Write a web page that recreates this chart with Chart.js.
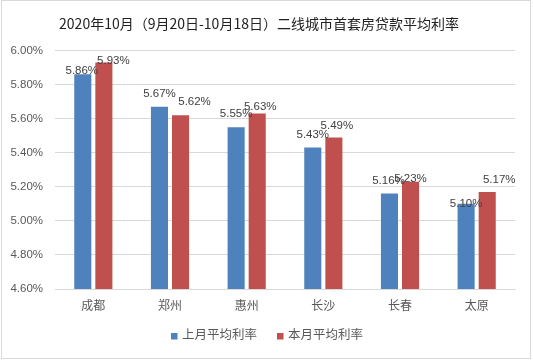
<!DOCTYPE html>
<html>
<head>
<meta charset="utf-8">
<script src="https://cdn.jsdelivr.net/npm/chart.js@4/dist/chart.umd.min.js"></script>
<style>
html,body{margin:0;padding:0;background:#fff;}
#wrap{width:533px;height:360px;position:relative;}
</style>
</head>
<body>
<div id="wrap"><canvas id="c" width="533" height="360"></canvas></div>
<script>
const titleText = '2020年10月（9月20日-10月18日）二线城市首套房贷款平均利率';
const categories = ['成都', '郑州', '惠州', '长沙', '长春', '太原'];
const seriesNames = ['上月平均利率', '本月平均利率'];
const lastMonth = [5.86, 5.67, 5.55, 5.43, 5.16, 5.10];
const thisMonth = [5.93, 5.62, 5.63, 5.49, 5.23, 5.17];
const yMin = 4.6, yMax = 6.0, yStep = 0.2;

// label nudges relative to bar top-centre (style only)
const labelNudges = [
  [[-1,-4],[0,-13],[0,-13],[0,-13],[-1,-12.5],[0,0]],
  [[9.5,-1.5],[14,-13],[3,-7],[3,-12],[0,-3],[12,-12]]
];
const colors = ['#4F81BD', '#C0504D'];
const FONT = '"Liberation Sans", "Noto Sans CJK SC", sans-serif';

const labelPlugin = {
  id: 'valueLabels',
  afterDatasetsDraw(chart) {
    const ctx = chart.ctx;
    ctx.save();
    ctx.font = '11.5px ' + FONT;
    ctx.fillStyle = '#404040';
    ctx.textAlign = 'center';
    ctx.textBaseline = 'middle';
    chart.data.datasets.forEach((ds, di) => {
      const meta = chart.getDatasetMeta(di);
      meta.data.forEach((bar, i) => {
        const n = labelNudges[di][i];
        ctx.fillText(ds.data[i].toFixed(2) + '%', bar.x + n[0], bar.y + n[1]);
      });
    });
    ctx.restore();
  }
};

const legendBorderPlugin = {
  id: 'legendBorder',
  afterDraw(chart) {
    const ctx = chart.ctx;
    ctx.save();
    // outer border
    ctx.strokeStyle = '#D9D9D9';
    ctx.lineWidth = 1;
    ctx.strokeRect(1.5, 0.5, 529, 358);
    // legend
    ctx.font = '12.5px ' + FONT;
    ctx.textBaseline = 'middle';
    ctx.textAlign = 'left';
    const ly = 336;
    const items = chart.data.datasets;
    let x = 171;
    items.forEach((ds, i) => {
      ctx.fillStyle = ds.backgroundColor;
      ctx.fillRect(x, ly - 3, 6.5, 6.5);
      ctx.fillStyle = '#595959';
      ctx.fillText(ds.label, x + 11, ly);
      x += 11 + ctx.measureText(ds.label).width + 20;
    });
    ctx.restore();
  }
};

new Chart(document.getElementById('c'), {
  type: 'bar',
  data: {
    labels: categories,
    datasets: [
      { label: seriesNames[0], data: lastMonth, backgroundColor: colors[0] },
      { label: seriesNames[1], data: thisMonth, backgroundColor: colors[1] }
    ]
  },
  options: {
    responsive: false,
    animation: false,
    devicePixelRatio: 1,
    layout: { padding: { top: 0, left: 3, right: 18, bottom: 41 } },
    datasets: { bar: { categoryPercentage: 0.55, barPercentage: 0.81 } },
    plugins: {
      legend: { display: false },
      tooltip: { enabled: false },
      title: {
        display: true,
        text: titleText,
        color: '#222',
        font: { family: '"Noto Sans CJK SC", "Liberation Sans", sans-serif', size: 14, weight: 'normal', lineHeight: 1.2 },
        padding: { top: 15, bottom: 18.7 }
      }
    },
    scales: {
      x: {
        grid: { display: false, drawTicks: false },
        border: { display: true, color: '#D9D9D9' },
        ticks: { color: '#595959', font: { family: FONT, size: 12 }, padding: 10 },
        afterFit(s) { s.height = 30; }
      },
      y: {
        min: yMin, max: yMax,
        grid: { color: '#D9D9D9', drawTicks: false },
        border: { display: false },
        ticks: {
          stepSize: yStep,
          color: '#595959',
          font: { family: FONT, size: 11.5 },
          padding: 12,
          callback: v => Number(v).toFixed(2) + '%'
        },
        afterFit(s) { s.width = 52; }
      }
    }
  },
  plugins: [labelPlugin, legendBorderPlugin]
});
</script>
</body>
</html>
